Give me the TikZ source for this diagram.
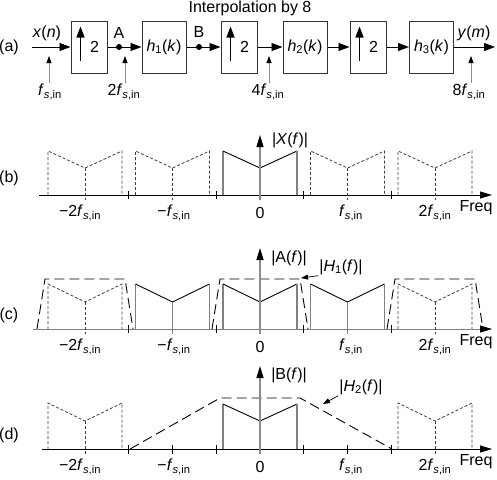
\documentclass[tikz,border=0pt]{standalone}
\usepackage{fontspec}
\setmainfont{Liberation Sans}
\usetikzlibrary{arrows.meta, positioning}

\newcommand{\fsi}{\textit{f}\textsubscript{\textit{s},in}}

\begin{document}
\begin{tikzpicture}[
    x=1pt, y=-1pt,
    font=\fontsize{16}{18}\selectfont,
    box/.style={draw=black!80, line width=1pt, minimum width=36pt, minimum height=52pt, inner sep=0pt},
    hbox/.style={box, minimum width=44pt},
    sig/.style={-{Triangle[length=11pt, width=8pt]}, line width=0.9pt},
    upsym/.style={-{Triangle[length=11pt, width=8pt]}, line width=1.3pt},
    dot/.style={circle, fill, inner sep=0pt, minimum size=6pt},
    rate/.style={-{Triangle[length=7pt, width=5pt, color=black]}, draw=black!45, line width=0.8pt},
    ratelbl/.style={inner sep=1pt},
    axis/.style={line width=0.9pt, -{Triangle[length=12pt, width=7pt, color=black]}},
    yaxis/.style={draw=black!45, line width=1.3pt, -{Triangle[length=12pt, width=7pt, color=black]}},
    edge/.style={draw=black!50, line width=1.1pt},
    spec/.style={line width=0.9pt},
    img/.style={draw=black!75, dash pattern=on 3pt off 2pt, line width=0.8pt},
    filt/.style={dash pattern=on 10pt off 5pt, line width=0.9pt},
    tick/.style={line width=0.8pt},
    lbl/.style={-{Triangle[length=7pt, width=5pt]}, line width=0.7pt}
]
\useasboundingbox (0,0) rectangle (497,479);

% (a) block diagram
\node (title) at (250,8) {Interpolation by 8};
\node (pa) at (9,47) {(a)};

\node[box]  (up1) at (89,47)    {\hspace*{11pt}2};
\node[hbox] (h1)  at (164,47)   {\textit{h}\textsubscript{1}(\textit{k})};
\node[box]  (up2) at (239,47)   {\hspace*{11pt}2};
\node[hbox] (h2)  at (305,47)   {\textit{h}\textsubscript{2}(\textit{k})};
\node[box]  (up3) at (368,47)   {\hspace*{11pt}2};
\node[hbox] (h3)  at (431.5,47) {\textit{h}\textsubscript{3}(\textit{k})};

\foreach \b in {up1, up2, up3}
    \draw[upsym] ([xshift=10pt, yshift=13pt]\b.south west) -- ([xshift=10pt, yshift=-6pt]\b.north west);

\coordinate (in) at (32,47);
\coordinate (out) at (495,47);
\node[dot] (ptA) at (119,47) {};
\node[dot] (ptB) at (199,47) {};

\draw[sig] (in) -- (up1);
\draw[sig] (up1) -- (h1);
\draw[sig] (h1) -- (up2);
\draw[sig] (up2) -- (h2);
\draw[sig] (h2) -- (up3);
\draw[sig] (up3) -- (h3);
\draw[sig] (h3) -- (out);

\node (xn) at (47,33) {\textit{x}(\textit{n})};
\node (ym) at (474,33) {\textit{y}(\textit{m})};
\node (lA) at (119,33) {A};
\node (lB) at (199,32) {B};

% sample rates
\node[ratelbl] (r1) at (50,92)  {\fsi};
\node[ratelbl] (r2) at (124,92) {2\fsi};
\node[ratelbl] (r3) at (268,92) {4\fsi};
\node[ratelbl] (r4) at (469,92) {8\fsi};
\coordinate (r1t) at (49,56);
\coordinate (r2t) at (125,56);
\coordinate (r3t) at (269,56);
\coordinate (r4t) at (471,56);
\draw[rate] (r1.north -| r1t) -- (r1t);
\draw[rate] (r2.north -| r2t) -- (r2t);
\draw[rate] (r3.north -| r3t) -- (r3t);
\draw[rate] (r4.north -| r4t) -- (r4t);

% (b) spectrum of x(n)
\node (pb) at (9,178) {(b)};
\coordinate (b0) at (39,195);
\coordinate (b1) at (492,195);
\draw[axis] (b0) -- (b1);
\foreach \k in {-2,-1,1,2}{
    \pgfmathsetmacro\c{260+87.5*\k}
    \draw[img] (\c-37,195) -- (\c-37,151) -- (\c,168) -- (\c+37,151) -- (\c+37,195);
    \draw[img] (\c,168) -- (\c,200);
}
\draw[edge] (223,195) -- (223,151);
\draw[spec] (223,151) -- (260,168) -- (297,151);
\draw[edge] (297,151) -- (297,195);
\foreach \t in {-1.5,-0.5,0.5,1.5}
    \draw[tick] (260+87.5*\t,191) -- (260+87.5*\t,199);
\draw[yaxis] (260,200) -- (260,135);
\node (Xf) at (290,140) {|\textit{X}(\textit{f})|};

% (c) spectrum of A
\node (pc) at (9,315) {(c)};
\coordinate (c0) at (33,329);
\coordinate (c1) at (492,329);
\draw[axis, draw=black!50] (c0) -- (c1);
\foreach \k in {-2,2}{
    \pgfmathsetmacro\c{260+87.5*\k}
    \draw[img] (\c-37,329) -- (\c-37,284) -- (\c,302) -- (\c+37,284) -- (\c+37,329);
    \draw[img] (\c,302) -- (\c,334);
}
\foreach \k in {-1,0,1}{
    \pgfmathsetmacro\c{260+87.5*\k}
    \draw[edge] (\c-37,329) -- (\c-37,284);
    \draw[spec] (\c-37,284) -- (\c,302) -- (\c+37,284);
    \draw[edge] (\c+37,284) -- (\c+37,329);
    \draw[edge] (\c,302) -- (\c,334);
}
\foreach \k in {-2,0,2}{
    \pgfmathsetmacro\c{260+87.5*\k}
    \draw[filt] (\c-48,329) -- (\c-40,279) -- (\c+40,279) -- (\c+48,329);
}
\foreach \t in {-1.5,-0.5,0.5,1.5}
    \draw[tick] (260+87.5*\t,325) -- (260+87.5*\t,333);
\draw[yaxis] (260,334) -- (260,248);
\node (Af) at (289,258) {|A(\textit{f})|};
\node[inner sep=1pt] (H1f) at (341,267) {|\textit{H}\textsubscript{1}(\textit{f})|};
\coordinate (H1c) at (301,278);
\draw[lbl] (H1f.south west) -- (H1c);

% (d) spectrum of B
\node (pd) at (9,435) {(d)};
\coordinate (d0) at (42,449);
\coordinate (d1) at (492,449);
\draw[axis] (d0) -- (d1);
\foreach \k in {-2,2}{
    \pgfmathsetmacro\c{260+87.5*\k}
    \draw[img] (\c-37,449) -- (\c-37,403) -- (\c,421) -- (\c+37,403) -- (\c+37,449);
    \draw[img] (\c,421) -- (\c,454);
}
\draw[edge] (223,449) -- (223,404);
\draw[spec] (223,404) -- (260,421) -- (297,404);
\draw[edge] (297,404) -- (297,449);
\draw[filt] (130,449) -- (220,398) -- (300,398) -- (392,449);
\foreach \t in {-1.5,-1,-0.5,0.5,1,1.5}
    \draw[tick] (260+87.5*\t,445) -- (260+87.5*\t,454);
\draw[yaxis] (260,454) -- (260,366);
\node (Bf) at (289,375) {|B(\textit{f})|};
\node[inner sep=1pt] (H2f) at (361,387) {|\textit{H}\textsubscript{2}(\textit{f})|};
\coordinate (H2c) at (323,404);
\draw[lbl] (H2f.south west) -- (H2c);

% frequency labels
\foreach \y/\p in {213/b, 347/c, 467/d}{
    \node (m2\p) at (80,\y)  {−2\fsi};
    \node (m1\p) at (174,\y) {−\fsi};
    \node (z\p)  at (260,\y) {0};
    \node (p1\p) at (351,\y) {\fsi};
    \node (p2\p) at (435,\y) {2\fsi};
}
\node (fqb) at (476,208) {Freq};
\node (fqc) at (476,342) {Freq};
\node (fqd) at (476,462) {Freq};

\end{tikzpicture}
\end{document}
